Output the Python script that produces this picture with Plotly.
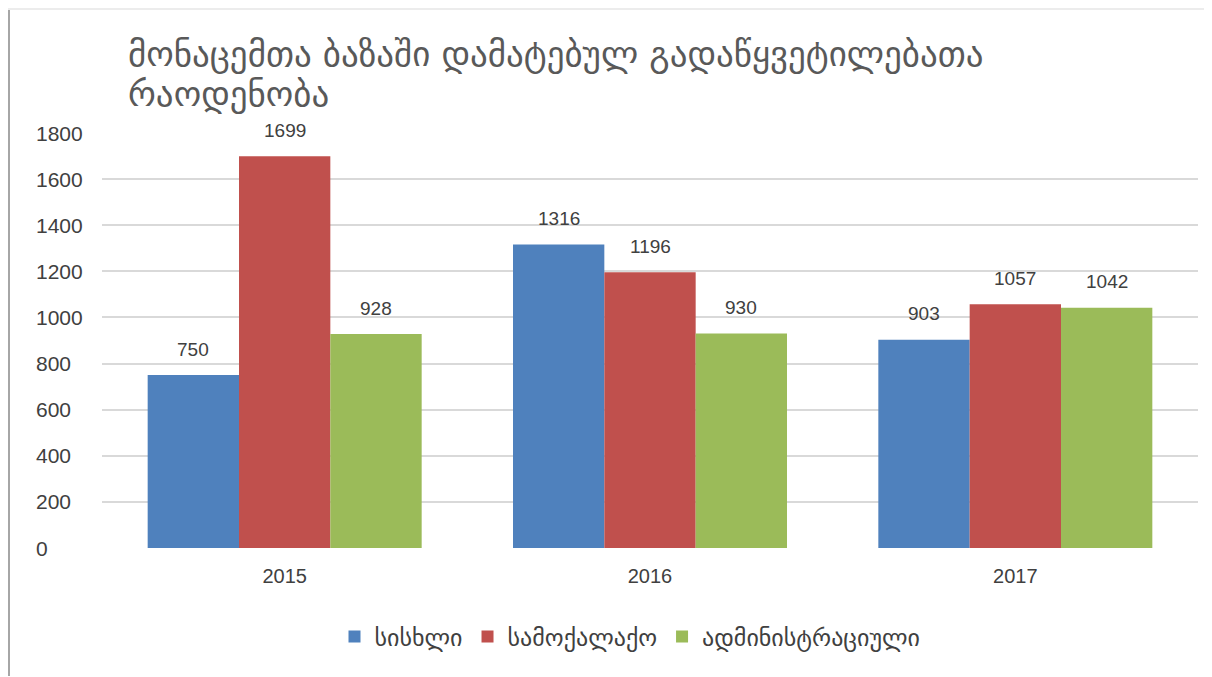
import plotly.graph_objects as go

years = ["2015", "2016", "2017"]
series_names = ["სისხლი", "სამოქალაქო", "ადმინისტრაციული"]
sisxli = [750, 1316, 903]
samoqalaqo = [1699, 1196, 1057]
administraciuli = [928, 930, 1042]
colors = ["#4F81BD", "#C0504D", "#9BBB59"]
y_ticks = [0, 200, 400, 600, 800, 1000, 1200, 1400, 1600, 1800]
title_lines = ["მონაცემთა ბაზაში დამატებულ გადაწყვეტილებათა", "რაოდენობა"]

FONT = "Liberation Sans, Arial, DejaVu Sans, sans-serif"
GEO = "DejaVu Sans, Liberation Sans, sans-serif"

# page is rendered with an 8px body margin; figure sized accordingly
OFF = 8
W, H = 1212 - OFF, 677 - OFF
ml, mr, mt, mb = 102 - OFF, 14, 133 - OFF, 129
PW, PH = W - ml - mr, H - mt - mb


def px(xp):  # page x -> paper x
    return (xp - OFF - ml) / PW


def py(yp):  # page y -> paper y
    return 1 - (yp - OFF - mt) / PH


series = [sisxli, samoqalaqo, administraciuli]
fig = go.Figure()
for name, vals, col in zip(series_names, series, colors):
    fig.add_trace(go.Bar(
        x=years, y=vals, name=name, marker=dict(color=col, line=dict(width=0)),
    ))

bargap = 0.25
cat_px = PW / len(years)
bar_px = cat_px * (1 - bargap) / len(series)

annos = []
for si, vals in enumerate(series):
    shift = (si - 1) * bar_px
    for yi, v in enumerate(vals):
        annos.append(dict(xref="x", yref="y", x=yi, y=v, xshift=shift, yshift=26,
                          xanchor="center", yanchor="middle", text=str(v), showarrow=False,
                          font=dict(family=FONT, size=19, color="#404040")))
for t in y_ticks:
    annos.append(dict(xref="paper", yref="y", x=px(34), y=t,
                      xanchor="left", yanchor="middle", text=str(t), showarrow=False,
                      font=dict(family=FONT, size=21, color="#404040")))
for i, line in enumerate(title_lines):
    annos.append(dict(xref="paper", yref="paper", x=px(126), y=py([54, 94][i]),
                      xanchor="left", yanchor="middle", text=line, showarrow=False,
                      font=dict(family=GEO, size=35, color="#595959")))

fig.update_layout(
    width=W, height=H,
    margin=dict(l=ml, r=mr, t=mt, b=mb),
    paper_bgcolor="white", plot_bgcolor="white",
    barmode="group", bargap=bargap, bargroupgap=0,
    font=dict(family=FONT, color="#595959"),
    showlegend=True,
    legend=dict(orientation="h", x=px(630), xanchor="center", y=py(637), yanchor="middle",
                font=dict(family=GEO, size=24, color="#404040"), itemwidth=30,
                traceorder="normal"),
    xaxis=dict(type="category", range=[-0.5, len(years) - 0.5], autorange=False,
               showgrid=False, showline=False, ticks="", ticklabelstandoff=14,
               tickfont=dict(family=FONT, size=20, color="#404040")),
    yaxis=dict(range=[0, 1800], autorange=False, tickvals=y_ticks, showticklabels=False,
               showgrid=True, gridcolor="#d9d9d9", gridwidth=1.5, zeroline=False, showline=False),
    annotations=annos,
)

fig.add_shape(type="line", xref="paper", yref="paper",
              x0=px(9), x1=px(9), y0=py(676), y1=py(8),
              line=dict(color="#a6a6a6", width=2))
fig.add_shape(type="line", xref="paper", yref="paper",
              x0=px(8), x1=px(1212), y0=py(9), y1=py(9),
              line=dict(color="#ececec", width=2))

fig.write_html("out.html")
